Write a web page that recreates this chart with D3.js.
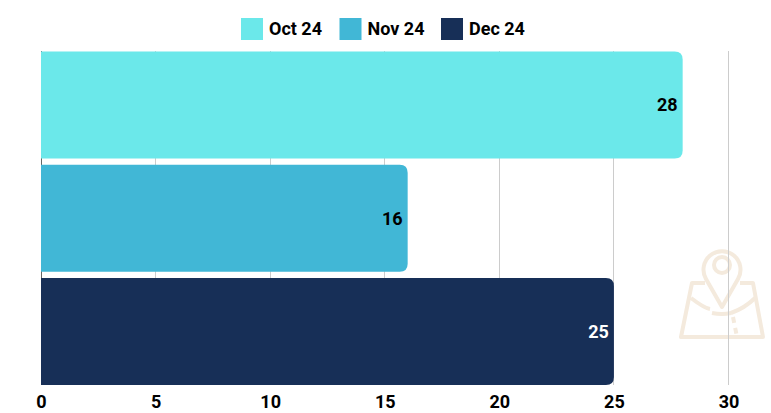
<!DOCTYPE html>
<html>
<head>
    <meta charset="UTF-8">
    <script src="https://d3js.org/d3.v7.min.js"></script>
    <style>
        body { margin: 0; background: #fff; }
        text { font-family: Roboto, sans-serif; font-weight: 700; }
    </style>
</head>
<body>
    <div id="chart"></div>
    <script type="text/javascript">
        const months = ["Oct 24", "Nov 24", "Dec 24"];
        const values = [28, 16, 25];
        const colors = ["#6be8ea", "#41b7d6", "#172f57"];
        const labelColors = ["#000000", "#000000", "#ffffff"];
        const xTicks = [0, 5, 10, 15, 20, 25, 30];

        const svg = d3.select("#chart").append("svg")
            .attr("width", 771)
            .attr("height", 413)
            .style("display", "block");

        const x = d3.scaleLinear().domain([0, 30]).range([41, 728.5]);
        const y = d3.scaleBand().domain(months).range([48.4, 388.1]).paddingInner(0.055).paddingOuter(0.0275);

        // faint map pin watermark, sits behind the grid
        const icon = svg.append("g")
            .attr("fill", "none")
            .attr("stroke", "#f4eadd")
            .attr("stroke-width", 4)
            .attr("stroke-linejoin", "round");
        icon.append("path").attr("d", "M722 307 L706 279 A18.5 18.5 0 1 1 738 279 Z");
        icon.append("circle").attr("cx", 722).attr("cy", 265).attr("r", 8);
        icon.append("path").attr("d", "M705 283 H692 L681 337 H763 L753 283 H740");
        icon.append("path").attr("d", "M691 298 Q704 308 710 309 M731 313 Q745 308 755 298 M712 313 Q722 315 731 313");
        icon.append("path").attr("d", "M733 317 L737 337").attr("stroke-dasharray", "6 5");

        // grid
        svg.append("g").selectAll("line")
            .data(xTicks)
            .join("line")
            .attr("x1", d => Math.floor(x(d)) + 0.5)
            .attr("x2", d => Math.floor(x(d)) + 0.5)
            .attr("y1", 51)
            .attr("y2", 385)
            .attr("stroke", d => d === 0 ? "#666" : "#cccccc")
            .attr("stroke-width", 1);

        // bars, rounded on the right end only
        const r = 8;
        function barPath(d, i) {
            const x0 = x(0), x1 = x(d), y0 = y(months[i]), y1 = y0 + y.bandwidth();
            return `M${x0},${y0} H${x1 - r} Q${x1},${y0} ${x1},${y0 + r} V${y1 - r} Q${x1},${y1} ${x1 - r},${y1} H${x0} Z`;
        }
        svg.append("g").selectAll("path")
            .data(values)
            .join("path")
            .attr("d", barPath)
            .attr("fill", (d, i) => colors[i]);

        // value labels
        svg.append("g").selectAll("text")
            .data(values)
            .join("text")
            .attr("x", d => x(d) - 5)
            .attr("y", (d, i) => y(months[i]) + y.bandwidth() / 2)
            .attr("dy", "0.36em")
            .attr("text-anchor", "end")
            .attr("font-size", 18)
            .attr("fill", (d, i) => labelColors[i])
            .text(d => d);

        // x axis labels
        const axis = svg.append("g")
            .attr("transform", "translate(0,385)")
            .call(d3.axisBottom(x).tickValues(xTicks).tickSize(0).tickPadding(10));
        axis.select(".domain").remove();
        axis.selectAll("text")
            .style("font-family", "Roboto, sans-serif")
            .style("font-weight", 700)
            .style("font-size", "18px")
            .attr("fill", "#000");

        // legend
        const legendX = [241, 339.5, 441];
        const legend = svg.append("g").selectAll("g")
            .data(months)
            .join("g")
            .attr("transform", (d, i) => `translate(${legendX[i]},18)`);
        legend.append("rect")
            .attr("width", 22)
            .attr("height", 22)
            .attr("fill", (d, i) => colors[i]);
        legend.append("text")
            .attr("x", 28)
            .attr("y", 11)
            .attr("dy", "0.36em")
            .attr("font-size", 18)
            .attr("fill", "#000")
            .text(d => d);
    </script>
</body>
</html>
